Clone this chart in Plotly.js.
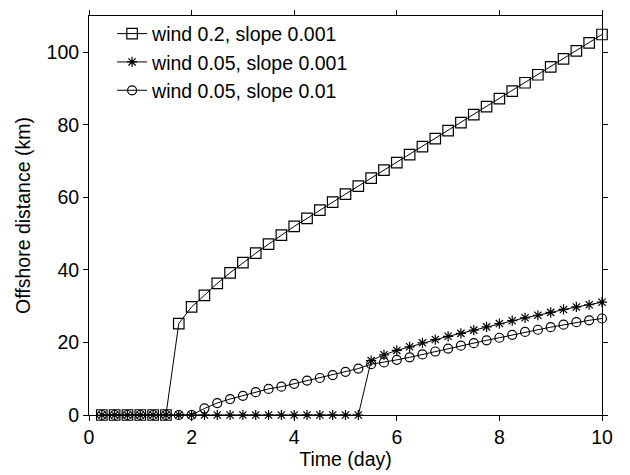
<!DOCTYPE html>
<html>
<head>
<meta charset="utf-8">
<script src="https://cdn.plot.ly/plotly-3.0.1.min.js"></script>
<style>html,body{margin:0;padding:0;background:#fff;}#chart{width:630px;height:475px;}</style>
</head>
<body>
<div id="chart"></div>
<script>
var timeDays = [0.25,0.5,0.75,1.0,1.25,1.5,1.75,2.0,2.25,2.5,2.75,3.0,3.25,3.5,3.75,4.0,4.25,4.5,4.75,5.0,5.25,5.5,5.75,6.0,6.25,6.5,6.75,7.0,7.25,7.5,7.75,8.0,8.25,8.5,8.75,9.0,9.25,9.5,9.75,10.0];
var wind02Slope0001 = [0,0,0,0,0,0,25.2,29.8,33.0,36.3,39.2,42.0,44.6,47.1,49.6,52.0,54.2,56.5,58.7,60.9,63.1,65.3,67.5,69.6,71.8,74.0,76.2,78.4,80.6,82.8,85.0,87.2,89.3,91.6,93.8,96.0,98.2,100.4,102.6,104.9];
var wind005Slope0001 = [0,0,0,0,0,0,0,0,0,0,0,0,0,0,0,0,0,0,0,0,0,15.0,16.6,17.8,18.8,19.9,20.8,21.7,22.5,23.4,24.3,25.2,26.0,26.8,27.5,28.3,29.1,29.8,30.4,31.1];
var wind005Slope001 = [0,0,0,0,0,0,0,0,1.8,3.3,4.4,5.3,6.3,7.2,7.8,8.6,9.5,10.2,11.0,11.9,12.8,14.0,14.5,15.2,15.9,16.7,17.5,18.3,19.1,19.8,20.6,21.3,22.1,22.9,23.5,24.2,24.9,25.6,26.1,26.6];
var seriesNames = ['wind 0.2, slope 0.001','wind 0.05, slope 0.001','wind 0.05, slope 0.01'];
var xTicks = [0,2,4,6,8,10];
var yTicks = [0,20,40,60,80,100];

var font = {family:'Liberation Sans, Arial, Helvetica, sans-serif', size:19.5, color:'#000'};
function tr(y, name, sym, size, grp){
  return {x:timeDays, y:y, name:name, type:'scatter', mode:'lines+markers', legendgroup:grp,
    cliponaxis:false,
    line:{color:'#000', width:1},
    marker:{symbol:sym, size:size, color:'#000', line:{color:'#000', width:1.2}}};
}
var data = [
  tr(wind02Slope0001, seriesNames[0], 'square-open', 10.5, 'a'),
  tr(wind005Slope0001, seriesNames[1], 'asterisk-open', 8.5, 'b'),
  tr(wind005Slope001, seriesNames[2], 'circle-open', 9, 'c')
];
var axisCommon = {showline:true, linecolor:'#000', linewidth:1, mirror:'ticks', ticks:'outside',
  ticklen:5, tickcolor:'#000', showgrid:false, zeroline:false, tickfont:font};
var layout = {
  width:630, height:475,
  margin:{l:89, r:28, t:16, b:60},
  paper_bgcolor:'#fff', plot_bgcolor:'#fff',
  font:font,
  showlegend:true,
  legend:{x:0.045, y:1.004, xanchor:'left', yanchor:'top', bgcolor:'rgba(0,0,0,0)',
    font:font, tracegroupgap:0, traceorder:'grouped'},
  xaxis:Object.assign({}, axisCommon, {range:[0,10], tickvals:xTicks, ticktext:xTicks.map(String),
    title:{text:'Time (day)', font:font, standoff:2}}),
  yaxis:Object.assign({}, axisCommon, {range:[0,110], tickvals:yTicks, ticktext:yTicks.map(String),
    title:{text:'Offshore distance (km)', font:font, standoff:10}})
};
Plotly.newPlot('chart', data, layout, {staticPlot:true, displayModeBar:false});
</script>
</body>
</html>
